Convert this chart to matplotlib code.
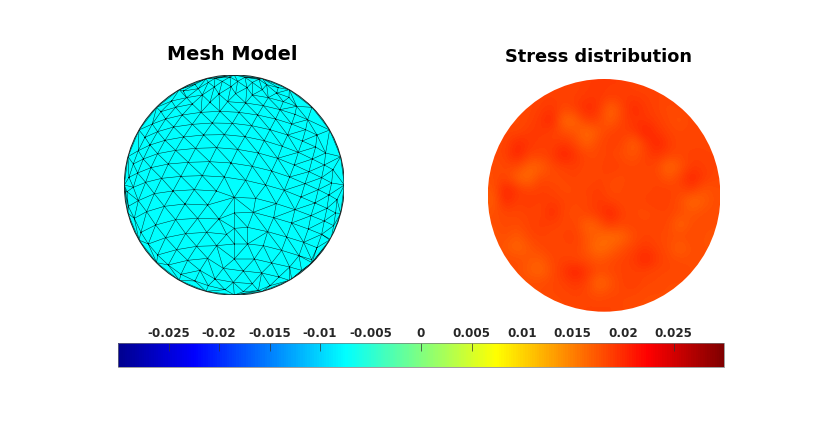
#importing libraries
import numpy as np
import matplotlib
matplotlib.use('Agg')
import matplotlib.pyplot as plt
import matplotlib.tri as mtri
from matplotlib.patches import Circle
from matplotlib.cm import ScalarMappable
from matplotlib.colors import Normalize,LinearSegmentedColormap

#mesh nodes, row by row (x,y in 3x zoom pixels of the mesh disc)
mesh_nodes=[(300,28),(345,24),(390,25),(432,31),
            (240,46),(280,40),(322,37),(368,37),(412,40),(455,47),(490,56),
            (205,66),(250,59),(298,54),(348,53),(396,56),(442,62),(485,72),(522,85),
            (170,96),(215,86),(262,78),(312,75),(362,74),(412,78),(460,86),(505,98),(545,112),
            (138,128),(182,115),(232,105),(285,100),(338,98),(392,102),(445,110),(495,122),(540,136),(578,152),
            (112,165),(152,150),(202,138),(258,130),(315,127),(372,130),(428,138),(482,150),(530,165),(572,182),(606,198),
            (90,205),(128,188),(176,174),(232,166),(292,162),(352,163),(410,170),(465,182),(518,198),(562,216),(602,234),(632,252),
            (70,245),(105,228),(150,214),(206,204),(266,198),(328,197),(390,203),(448,215),(502,232),(550,250),(592,270),(628,288),(654,302),
            (55,285),(85,270),(128,254),(182,244),(242,238),(305,236),(368,241),(430,252),(488,268),(538,288),(582,308),(620,326),(650,342),
            (42,325),(68,312),(108,296),(160,285),(220,280),(284,278),(348,282),(412,292),(470,306),(524,324),(570,344),(610,362),(642,378),(666,392),
            (36,368),(55,355),(92,340),(140,328),(198,322),(262,320),(328,324),(392,334),(452,348),(508,364),(558,384),(600,402),(636,418),(662,432),
            (40,412),(70,395),(118,374),(174,366),(238,362),(304,366),(358,385),(422,388),(484,404),(540,422),(588,440),(628,456),(656,470),
            (58,448),(95,428),(148,412),(210,405),(278,408),(358,432),(415,430),(476,446),(530,462),(580,480),(620,496),(648,512),
            (78,490),(122,468),(182,452),(248,448),(312,450),(358,478),(398,475),(458,488),(515,504),(566,520),(606,536),
            (100,525),(152,506),(212,494),(275,490),(335,496),(358,525),(398,525),(445,530),(500,544),(552,560),(590,572),
            (128,558),(185,542),(245,532),(305,530),(358,570),(418,570),(470,582),(524,594),(560,604),
            (160,588),(218,574),(278,568),(325,598),(385,606),(440,612),(492,624),(530,630),
            (198,616),(255,604),(300,630),(355,640),(412,644),(465,650),
            (240,636),(280,650),(330,662),(385,668),(430,665)]
rim_nodes=[(358,18),(443,29),(523,62),(591,115),(644,183),(677,263),(688,348),(677,433),(644,513),(591,581),(523,634),(443,667),
           (358,678),(273,667),(193,634),(125,581),(72,513),(39,433),(28,348),(39,263),(72,183),(125,115),(193,62),(273,29)]

#stress values in thousandths, grid
stress_grid=[[18.5,18.5,18.5,18.5,18.5,18.5,18.5,18.5,19.0,19.0,19.0,19.0,18.5,18.5,18.5,18.5,18.5,18.5,18.5,18.5],
             [18.5,18.5,18.5,18.5,18.5,18.8,18.5,18.8,19.0,19.3,18.8,19.0,19.0,18.8,18.5,18.5,18.5,18.5,18.5,18.5],
             [18.5,18.5,18.5,18.3,18.8,19.3,18.3,18.8,20.2,19.3,16.3,18.3,20.2,19.0,18.6,18.0,18.5,18.5,18.5,18.5],
             [18.5,18.5,18.0,18.5,19.2,20.6,16.0,16.6,19.0,18.6,16.6,18.6,19.4,19.3,18.8,18.3,17.6,18.5,18.5,18.5],
             [18.5,18.5,18.2,19.0,19.2,18.8,17.8,17.4,16.0,17.4,18.6,18.8,19.0,20.8,19.3,18.5,18.3,18.5,18.5,18.5],
             [18.5,18.3,20.2,19.3,18.8,18.6,19.3,18.3,16.6,18.3,18.8,18.6,16.6,18.8,20.6,19.0,18.3,18.3,18.5,18.5],
             [18.3,18.6,20.6,18.6,18.6,19.0,20.8,19.3,18.3,18.3,18.6,18.0,17.4,18.6,19.4,18.6,18.3,18.8,18.5,18.5],
             [18.0,18.3,18.3,16.6,16.6,18.3,18.6,19.0,18.3,18.3,19.0,18.6,18.3,18.6,18.3,16.0,17.4,19.0,18.8,18.5],
             [18.0,18.6,16.6,16.0,18.3,18.0,18.3,18.6,18.0,18.6,18.3,18.0,18.6,18.3,18.6,17.4,18.6,20.6,19.0,18.3],
             [17.4,20.6,19.3,18.3,19.0,18.6,18.0,18.3,18.6,19.0,18.0,18.3,18.6,18.3,18.6,18.8,18.3,19.0,17.4,18.0],
             [17.0,20.2,18.6,19.3,18.6,19.0,18.6,18.3,18.3,19.3,18.6,18.3,18.3,18.6,19.0,18.6,18.0,16.0,17.0,18.0],
             [17.8,18.3,18.3,18.6,18.3,20.2,18.3,18.0,18.6,19.0,20.6,18.6,18.3,18.0,18.3,18.6,18.0,17.4,18.0,18.0],
             [17.8,18.3,18.0,18.6,19.0,18.6,18.3,18.6,16.3,17.4,19.0,18.3,18.6,18.3,18.6,18.3,16.3,18.0,18.0,18.0],
             [17.4,18.0,17.0,18.3,18.6,18.3,18.6,18.8,17.4,16.6,16.0,16.3,18.0,18.6,18.3,18.0,18.0,18.3,17.8,17.4],
             [17.8,17.4,16.3,17.4,18.3,18.6,18.3,18.6,17.4,15.8,16.6,17.8,18.6,19.3,18.6,18.0,16.6,18.0,17.8,17.8],
             [17.8,18.0,18.0,17.4,17.0,18.3,18.6,18.3,18.0,17.4,18.0,18.6,19.0,20.6,19.0,18.3,18.0,18.0,18.0,18.0],
             [18.0,18.0,18.0,17.0,16.3,18.0,19.3,20.8,19.3,18.0,18.3,18.6,18.6,18.6,18.3,18.3,18.3,18.0,18.0,18.0],
             [18.0,18.0,18.0,18.0,18.0,18.3,18.6,19.3,18.6,16.0,17.4,18.6,19.0,18.3,18.3,18.0,18.0,18.0,18.0,18.0],
             [18.0,18.0,18.0,18.0,18.0,18.3,18.3,18.6,18.3,17.8,18.3,18.3,18.3,18.0,18.0,18.0,18.0,18.0,18.0,18.0],
             [18.0,18.0,18.0,18.0,18.0,18.0,18.3,18.3,18.6,18.6,18.6,18.3,18.0,18.0,18.0,18.0,18.0,18.0,18.0,18.0]]

cbar_ticks=[-0.025,-0.02,-0.015,-0.01,-0.005,0,0.005,0.01,0.015,0.02,0.025]
cbar_labels=['-0.025','-0.02','-0.015','-0.01','-0.005','0','0.005','0.01','0.015','0.02','0.025']
#these tick marks do not show in the reference
hidden_ticks=[-0.005,0.01,0.015,0.02]

#matlab style jet
jet=LinearSegmentedColormap.from_list('mjet',[(0,(0,0,0.5625)),(0.125,(0,0,1)),(0.375,(0,1,1)),(0.625,(1,1,0)),(0.875,(1,0,0)),(1,(0.5,0,0))],N=256)

W,H=830,435
def box(x0,y0,x1,y1):
    #pixel box (y down) to figure fractions
    return [x0/W,1-y1/H,(x1-x0)/W,(y1-y0)/H]

fig=plt.figure(figsize=(W/100,H/100),dpi=100,facecolor='white')

#mesh model
ax1=fig.add_axes(box(124.3,76,344.3,296))
nodes=np.array(mesh_nodes+rim_nodes,dtype=float)
tri=mtri.Triangulation(nodes[:,0],nodes[:,1])
ax1.set_xlim(28,688)
ax1.set_ylim(678,18)
ax1.axis('off')
disc=Circle((358,348),330,facecolor='#00ffff',edgecolor='none')
ax1.add_patch(disc)
lines=ax1.triplot(tri,color='black',lw=0.35,alpha=0.85)
for l in lines:
    l.set_clip_path(disc)
ax1.add_patch(Circle((358,348),330,facecolor='none',edgecolor='#222222',lw=0.7))
fig.text(232.5/W,1-54.5/H,'Mesh Model',ha='center',va='center',fontsize=13.9,fontweight='bold')

#stress distribution
ax2=fig.add_axes(box(487.5,80,720.7,312.7))
ax2.axis('off')
stress=np.array(stress_grid)/1000
im=ax2.imshow(stress,cmap=jet,vmin=-0.03,vmax=0.03,interpolation='bicubic',extent=[0,1,1,0])
clip=Circle((0.5,0.5),0.5,transform=ax2.transData)
im.set_clip_path(clip)
fig.text(598/W,1-56.5/H,'Stress distribution',ha='center',va='center',fontsize=12.75,fontweight='bold')

#colorbar
cax=fig.add_axes(box(118,344,724,368))
cb=fig.colorbar(ScalarMappable(norm=Normalize(-0.03,0.03),cmap=jet),cax=cax,orientation='horizontal')
cb.set_ticks(cbar_ticks)
cb.set_ticklabels(cbar_labels)
cax.xaxis.set_ticks_position('top')
cax.tick_params(axis='x',direction='in',length=6,width=0.5,color='#333333',pad=3,labelsize=8.6,labelcolor='#262626')
for t in cax.get_xticklabels():
    t.set_fontweight('bold')
for tick,v in zip(cax.xaxis.get_major_ticks(),cbar_ticks):
    if v in hidden_ticks:
        tick.tick2line.set_visible(False)
cb.outline.set_linewidth(0.5)
cb.outline.set_edgecolor('#777777')

fig.savefig('out.png',dpi=100)
